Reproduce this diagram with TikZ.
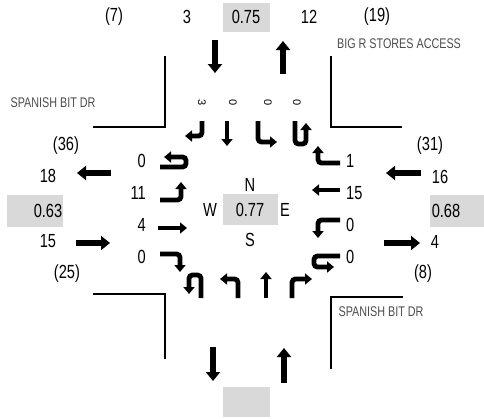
\documentclass[tikz,border=0pt]{standalone}
\usepackage{fontspec}
\setmainfont{Liberation Sans}
\newfontfamily\nar[FakeStretch=0.77]{Liberation Sans}
\usetikzlibrary{arrows.meta}
\begin{document}
\begin{tikzpicture}[x=1pt,y=-1pt,
  num/.style={font=\nar\fontsize{19}{19}\selectfont, inner sep=0pt},
  lbl/.style={font=\nar\fontsize{14}{14}\selectfont, text=black!70, inner sep=0pt},
  rot/.style={font=\fontsize{11}{11}\selectfont, rotate=-90, inner sep=0pt},
  gbox/.style={fill=black!15},
  corner/.style={line width=1.6pt},
  barr/.style={line width=6.5pt, -{Triangle[width=14pt,length=9pt]}},
  sarr/.style={line width=4.8pt, rounded corners=3.5pt, -{Triangle[width=11pt,length=7pt]}}]
\useasboundingbox (0,0) rectangle (484,418);
% gray boxes
\fill[gbox] (223,3) rectangle (270,32);
\fill[gbox] (7,195) rectangle (63,227);
\fill[gbox] (430,195) rectangle (484,227);
\fill[gbox] (223,194) rectangle (278,225);
\fill[gbox] (223,387) rectangle (270,417);
% top texts
\node[num] (n7) at (114,17) {(7)};
\node[num] (n3) at (187,17) {3};
\node[num] (nt) at (246,17) {0.75};
\node[num] (n12) at (309,17) {12};
\node[num] (n19) at (377,17) {(19)};
\node[lbl] (big) at (399,44) {BIG R STORES ACCESS};
\node[lbl] (sp1) at (53,103) {SPANISH BIT DR};
\node[lbl] (sp2) at (381,312) {SPANISH BIT DR};
% west texts
\node[num] (n36) at (66,146) {(36)};
\node[num] (n18) at (48,176) {18};
\node[num] (nw) at (48,211) {0.63};
\node[num] (n15) at (48,241) {15};
\node[num] (n25) at (67,274) {(25)};
% east texts
\node[num] (n31) at (430,146) {(31)};
\node[num] (n16) at (440,177) {16};
\node[num] (ne) at (446,211) {0.68};
\node[num] (n4) at (435,242) {4};
\node[num] (n8) at (423,274) {(8)};
% centre
\node[num] (cN) at (250,185) {N};
\node[num] (cW) at (210,210) {W};
\node[num] (cE) at (285,210) {E};
\node[num] (cS) at (250,240) {S};
\node[num] (cv) at (250,210) {0.77};
% west movement counts
\node[num, anchor=east] (wu) at (146,161) {0};
\node[num, anchor=east] (wl) at (146,193) {11};
\node[num, anchor=east] (wt) at (146,225) {4};
\node[num, anchor=east] (wr) at (146,257) {0};
% east movement counts
\node[num, anchor=west] (er) at (346,161) {1};
\node[num, anchor=west] (et) at (346,193) {15};
\node[num, anchor=west] (el) at (346,225) {0};
\node[num, anchor=west] (eu) at (346,257) {0};
% north movement counts (rotated)
\node[rot] (nr) at (202,103) {3};
\node[rot] (ntt) at (233,103) {0};
\node[rot] (nl) at (268,103) {0};
\node[rot] (nu) at (297,103) {0};
% corner lines
\draw[corner] (165,56) -- (165,127) -- (93,127);
\draw[corner] (331,56) -- (331,127) -- (402,127);
\draw[corner] (93,294) -- (165,294) -- (165,359);
\draw[corner] (403,297) -- (331,297) -- (331,369);
% big approach arrows
\draw[barr] (215,40) -- (215,73);
\draw[barr] (283,74) -- (283,41);
\draw[barr] (111,173) -- (77,173);
\draw[barr] (76,243) -- (110,243);
\draw[barr] (421,173) -- (386,173);
\draw[barr] (384,243) -- (420,243);
\draw[barr] (213,347) -- (213,381);
\draw[barr] (284,383) -- (284,348);
% north small arrows
\draw[sarr] (202,121) -- (202,136) -- (185,136);
\draw[sarr] (227,121) -- (227,146);
\draw[sarr] (258,121) -- (258,142) -- (277,142);
\draw[sarr] (295,121) -- (295,144) -- (306,144) -- (306,123);
% west small arrows
\draw[sarr] (160,167) -- (186,167) -- (186,157) -- (164,157);
\draw[sarr] (160,200) -- (181,200) -- (181,182);
\draw[sarr] (158,228) -- (187,228);
\draw[sarr] (160,254) -- (180,254) -- (180,272);
% east small arrows
\draw[sarr] (340,163) -- (318,163) -- (318,146);
\draw[sarr] (340,190) -- (312,190);
\draw[sarr] (340,220) -- (318,220) -- (318,238);
\draw[sarr] (340,256) -- (314,256) -- (314,267) -- (334,267);
% south small arrows
\draw[sarr] (201,298) -- (201,275) -- (189,275) -- (189,294);
\draw[sarr] (238,298) -- (238,279) -- (220,279);
\draw[sarr] (266,298) -- (266,272);
\draw[sarr] (292,298) -- (292,279) -- (312,279);
\end{tikzpicture}
\end{document}
